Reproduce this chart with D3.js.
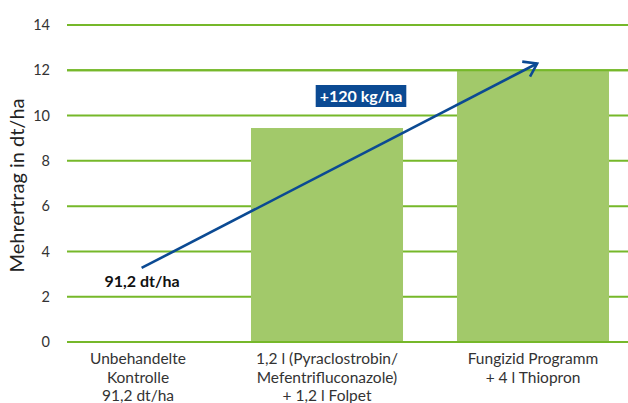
<!DOCTYPE html>
<html><head><meta charset="utf-8">
<script src="https://cdn.jsdelivr.net/npm/d3@7"></script>
<style>body{margin:0;background:#fff}svg{display:block}text{font-family:"Lato","Open Sans",sans-serif}</style>
</head><body><svg id="c" width="628" height="403"></svg>
<script>
const categories = [
  ["Unbehandelte","Kontrolle","91,2 dt/ha"],
  ["1,2 l (Pyraclostrobin/","Mefentrifluconazole)","+ 1,2 l Folpet"],
  ["Fungizid Programm","+ 4 l Thiopron"]
];
const values = [0, 9.45, 12.0];
const yTicks = [0,2,4,6,8,10,12,14];
const arrowStart = {x: 0.1, y: 3.27};
const arrowEnd = {x: 2.02, y: 12.3};
const gainLabel = "+120 kg/ha";
const baseLabel = "91,2 dt/ha";
const yTitle = "Mehrertrag in dt/ha";

const svg = d3.select("#c");
const mLeft = 67, mRight = 628, mTop = 25, mBottom = 342;
const y = d3.scaleLinear().domain([0,14]).range([mBottom, mTop]);
const x = d3.scaleBand().domain(d3.range(categories.length)).range([18, 636]).paddingInner(0.262).paddingOuter(0.131);
const xc = d3.scaleLinear().domain([0,2]).range([x(0)+x.bandwidth()/2, x(2)+x.bandwidth()/2]);

// grid
svg.append("g").selectAll("line").data(yTicks).join("line")
  .attr("x1", mLeft).attr("x2", mRight).attr("y1", d=>y(d)).attr("y2", d=>y(d))
  .attr("stroke", "#76b82a").attr("stroke-width", 2);

// y axis labels
const ya = svg.append("g").attr("transform", `translate(${mLeft},0)`)
  .call(d3.axisLeft(y).tickValues(yTicks).tickSize(0).tickPadding(17));
ya.select(".domain").remove();
ya.selectAll("text").attr("font-size", 14.5).attr("fill", "#333").style("font-family", "Lato, sans-serif");

// bars
svg.append("g").selectAll("rect").data(values).join("rect")
  .attr("x", (d,i)=>x(i)).attr("width", x.bandwidth())
  .attr("y", d=>y(d)).attr("height", d=>Math.max(0, y(0)-y(d) - 1))
  .attr("fill", "#a2c96a");

// grid lines that coincide with bar tops / baseline, over bars
svg.append("g").selectAll("line").data(yTicks.filter(t=>values.includes(t))).join("line")
  .attr("x1", mLeft).attr("x2", mRight).attr("y1", d=>y(d)).attr("y2", d=>y(d))
  .attr("stroke", "#76b82a").attr("stroke-width", 2);

// x labels
const labelOffsets = [17, 0, 0];
const xg = svg.append("g");
categories.forEach((lines, i) => {
  const cx = x(i) + x.bandwidth()/2 + labelOffsets[i];
  const t = xg.append("text").attr("text-anchor", "middle")
    .attr("x", cx).attr("y", 364)
    .attr("font-size", 15.5).attr("fill", "#333");
  lines.forEach((l, j) => t.append("tspan").attr("x", cx).attr("dy", j===0?0:18.5).text(l));
});

// y title
svg.append("text").attr("transform", `translate(24,${(mTop+mBottom)/2+2}) rotate(-90)`)
  .attr("text-anchor", "middle").attr("font-size", 20).attr("fill", "#222").text(yTitle);

// arrow
const sx = xc(arrowStart.x), sy = y(arrowStart.y), ex = xc(arrowEnd.x), ey = y(arrowEnd.y);
svg.append("line").attr("x1", sx).attr("y1", sy).attr("x2", ex).attr("y2", ey)
  .attr("stroke", "#0b4a93").attr("stroke-width", 2.6);
const ang = Math.atan2(ey-sy, ex-sx);
const hl = 15, ha = 0.6;
const p1 = [ex - hl*Math.cos(ang-ha), ey - hl*Math.sin(ang-ha)];
const p2 = [ex - hl*Math.cos(ang+ha), ey - hl*Math.sin(ang+ha)];
svg.append("path").attr("d", `M${p1}L${ex},${ey}L${p2}`).attr("fill","none")
  .attr("stroke", "#0b4a93").attr("stroke-width", 2.6).attr("stroke-linejoin","miter");

// gain label
const gx = 361, gy = 96;
const gbox = svg.append("rect").attr("fill", "#0b4a93");
const gt = svg.append("text").attr("x", gx).attr("y", gy+6).attr("text-anchor","middle")
  .attr("font-size", 16).attr("font-weight","bold").attr("fill","#fff").text(gainLabel);
const bb = gt.node().getBBox();
gbox.attr("x", bb.x-4).attr("y", gy-11).attr("width", bb.width+8).attr("height", 22);

// base label
svg.append("text").attr("x", 142).attr("y", 287).attr("text-anchor","middle")
  .attr("font-size", 16).attr("font-weight","bold").attr("fill","#111").text(baseLabel);
</script></body></html>
